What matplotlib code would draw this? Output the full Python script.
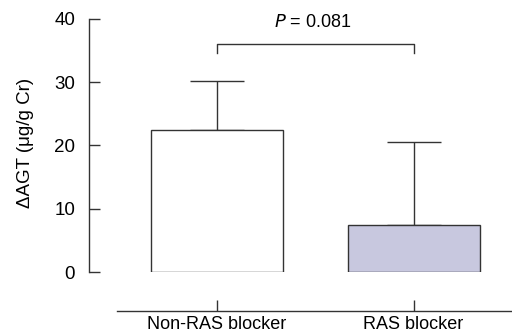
import matplotlib
matplotlib.use("Agg")
import matplotlib.pyplot as plt
from matplotlib import font_manager

groups = ["Non-RAS blocker", "RAS blocker"]
means = [22.5, 7.5]
errs = [7.7, 13.0]
p_text = "= 0.081"
bracket_y = 36.1
bracket_drop = 1.5

names = {f.name for f in font_manager.fontManager.ttflist}
fam = "Liberation Sans Narrow" if "Liberation Sans Narrow" in names else "Liberation Sans"
plt.rcParams["font.family"] = [fam, "DejaVu Sans"]
plt.rcParams["font.size"] = 13

fig = plt.figure(figsize=(5.12, 3.34), dpi=100)
ax = fig.add_axes([0.1738, 0.1856, 0.8262, 0.7958])

x = [0, 1]
ax.bar(x, means, width=0.67, color=["white", "#c8c8df"], edgecolor="#333333",
       linewidth=1.0, zorder=2)
ax.errorbar(x, means, yerr=[[0, 0], errs], fmt="none", ecolor="#333333",
            elinewidth=1.0, capsize=19.4, capthick=1.0, zorder=1)

# significance bracket
ax.plot([0, 0, 1, 1], [bracket_y - bracket_drop, bracket_y, bracket_y, bracket_y - bracket_drop],
        color="#333333", lw=1.0)
ax.text(0.49, 39.4, "$P$ " + p_text, ha="center", va="center", fontsize=13)

ax.set_xlim(-0.649, 1.5)
ax.set_ylim(0, 42)
ax.set_yticks([0, 10, 20, 30, 40])
ax.set_xticks(x)
ax.set_xticklabels(groups, fontsize=12.5)
ax.spines["top"].set_visible(False)
ax.spines["right"].set_visible(False)
ax.spines["left"].set_bounds(0, 40)
ax.spines["bottom"].set_position(("outward", 28))
ax.spines["bottom"].set_bounds(-0.507, 1.5)
for s in ["left", "bottom"]:
    ax.spines[s].set_color("#333333")
    ax.spines[s].set_linewidth(1.0)
ax.tick_params(direction="in", length=8, width=1.0, color="#333333")
ax.tick_params(axis="y", pad=10, labelsize=13.5)
ax.tick_params(axis="x", pad=4)
ax.set_ylabel("ΔAGT (μg/g Cr)", fontsize=13.5)
ax.yaxis.set_label_coords(-0.131, 0.485)

fig.savefig("out.png", dpi=100)
